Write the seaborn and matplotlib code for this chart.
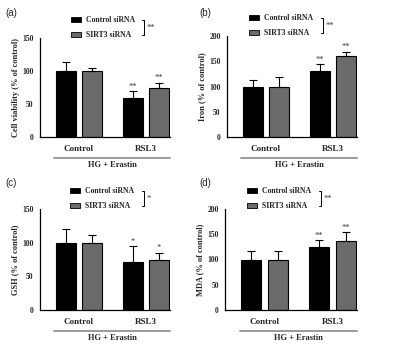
import matplotlib
matplotlib.use("Agg")
import matplotlib.pyplot as plt
import seaborn as sns
import pandas as pd
from matplotlib.patches import Patch

sns.set_style("white")
plt.rcParams['font.family'] = ['Liberation Serif', 'DejaVu Serif']

groups = ["Control", "RSL3"]
series = ["Control siRNA", "SIRT3 siRNA"]

viability_ctrl = [100, 59]
viability_sirt3 = [100, 75]
viability_err_ctrl = [14, 10]
viability_err_sirt3 = [5, 7]

iron_ctrl = [100, 130]
iron_sirt3 = [100, 160]
iron_err_ctrl = [12, 14]
iron_err_sirt3 = [19, 9]

gsh_ctrl = [100, 71]
gsh_sirt3 = [100, 75]
gsh_err_ctrl = [21, 24]
gsh_err_sirt3 = [12, 10]

mda_ctrl = [100, 125]
mda_sirt3 = [100, 136]
mda_err_ctrl = [16, 13]
mda_err_sirt3 = [16, 18]

panel_labels = ["(a)", "(b)", "(c)", "(d)"]
ylabels = ["Cell viability (% of control)", "Iron (% of control)",
           "GSH (% of control)", "MDA (% of control)"]
ymax = [150, 200, 150, 200]
bar_stars = ["**", "**", "*", "**"]
legend_stars = ["**", "**", "*", "**"]
xlabel_text = "HG + Erastin"

colors = ["#000000", "#6b6b6b"]

panels = [
    (viability_ctrl, viability_sirt3, viability_err_ctrl, viability_err_sirt3),
    (iron_ctrl, iron_sirt3, iron_err_ctrl, iron_err_sirt3),
    (gsh_ctrl, gsh_sirt3, gsh_err_ctrl, gsh_err_sirt3),
    (mda_ctrl, mda_sirt3, mda_err_ctrl, mda_err_sirt3),
]

W, H = 395, 348
rects_px = [(40, 38, 130, 99), (227, 36, 130, 101), (40, 209, 130, 101), (225, 209, 132, 101)]
legend_x = [0.24, 0.17, 0.23, 0.165]
bracket_x = [0.80, 0.74, 0.80, 0.73]
label_pos = [(5, 13), (199, 13), (5, 183), (199, 183)]

fig = plt.figure(figsize=(W / 100, H / 100), dpi=100)

for i, (c, s, ec, es) in enumerate(panels):
    l, t, w, h = rects_px[i]
    ax = fig.add_axes([l / W, 1 - (t + h) / H, w / W, h / H])
    df = pd.DataFrame({
        "group": groups * 2,
        "series": [series[0]] * 2 + [series[1]] * 2,
        "value": list(c) + list(s),
    })
    sns.barplot(data=df, x="group", y="value", hue="series", hue_order=series,
                order=groups, palette=colors, width=0.78, gap=0.23,
                edgecolor="black", linewidth=0.8, errorbar=None, legend=False, ax=ax)
    errs = [ec, es]
    bar_conts = list(ax.containers)
    for k, cont in enumerate(bar_conts):
        xs = [p.get_x() + p.get_width() / 2 for p in cont.patches]
        hs = [p.get_height() for p in cont.patches]
        ax.errorbar(xs, hs, yerr=[[0] * len(hs), errs[k]], fmt="none",
                    ecolor="black", elinewidth=0.8, capsize=3.2, capthick=0.8, zorder=1)
        j = 1
        ax.text(xs[j], hs[j] + errs[k][j] + ymax[i] * 0.005, bar_stars[i],
                ha="center", va="bottom", fontsize=6, color="#333333")
    ax.set_xlim(-0.58, 1.36)
    ax.set_ylim(0, ymax[i])
    ax.set_yticks(list(range(0, ymax[i] + 1, 50)))
    ax.set_xlabel("")
    ax.set_ylabel(ylabels[i], fontsize=6, fontweight="bold", labelpad=2)
    for sp in ["top", "right"]:
        ax.spines[sp].set_visible(False)
    for sp in ["left", "bottom"]:
        ax.spines[sp].set_color("black")
        ax.spines[sp].set_linewidth(0.9)
    ax.tick_params(axis="both", direction="out", length=3, width=0.8, color="black", pad=1.5)
    ax.tick_params(axis="y", labelsize=5.5)
    ax.tick_params(axis="x", labelsize=6.5, pad=2.5)
    for lab in ax.get_xticklabels() + ax.get_yticklabels():
        lab.set_fontweight("bold")

    ax.plot([0.11, 1.0], [-0.21, -0.21], transform=ax.transAxes, color="#9a9a9a",
            lw=1.4, clip_on=False)
    ax.text(0.56, -0.28, xlabel_text, transform=ax.transAxes, ha="center", va="center",
            fontsize=6, fontweight="bold")

    handles = [Patch(facecolor=colors[0], edgecolor="black", lw=0.6),
               Patch(facecolor=colors[1], edgecolor="black", lw=0.6)]
    ax.legend(handles, series, loc="upper left", bbox_to_anchor=(legend_x[i], 1.22),
              frameon=False, handlelength=1.3, handleheight=0.6,
              handletextpad=0.6, labelspacing=0.9, borderpad=0, borderaxespad=0,
              prop={"weight": "bold", "size": 5.6})
    bx = bracket_x[i]
    ax.plot([bx - 0.015, bx, bx, bx - 0.015], [1.18, 1.18, 1.03, 1.03],
            transform=ax.transAxes, color="black", lw=0.7, clip_on=False)
    ax.text(bx + 0.02, 1.10, legend_stars[i], transform=ax.transAxes, ha="left",
            va="center", fontsize=6, color="#333333")

    fig.text(label_pos[i][0] / W, 1 - label_pos[i][1] / H, panel_labels[i],
             fontsize=7, family=["Liberation Sans", "DejaVu Sans"], va="center", ha="left")

fig.savefig("out.png", dpi=100)
